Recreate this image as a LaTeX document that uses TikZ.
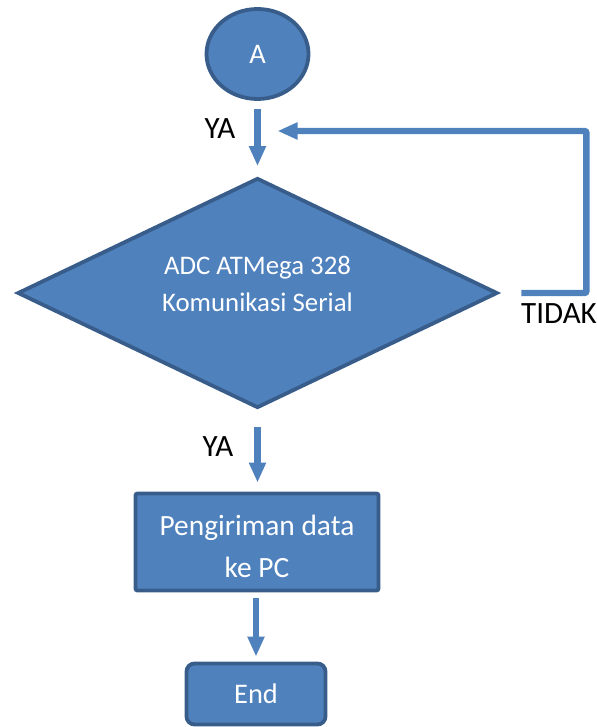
\documentclass[tikz,border=0pt]{standalone}
\usepackage{fontspec}
\setmainfont{Carlito}
\usetikzlibrary{shapes.geometric,arrows.meta}
\definecolor{boxfill}{HTML}{4F81BD}
\definecolor{boxline}{HTML}{385D8A}
\definecolor{flowline}{HTML}{4F81BD}
\begin{document}
\begin{tikzpicture}[x=0.5pt, y=-0.5pt,
    box/.style={draw=boxline, fill=boxfill, line width=1.9pt, text=white, align=center, inner sep=0pt,
      font=\fontsize{14.2}{18.5}\selectfont},
    flow/.style={draw=flowline, line width=3.2pt, -{Triangle[width=8pt, length=10pt]}},
    lbl/.style={font=\fontsize{15.5}{18}\selectfont}]
    \useasboundingbox (0,0) rectangle (597,727);

    % Flow nodes
    \node[box, ellipse, minimum width=51pt, minimum height=45pt] (start) at (257.5,54) {A};
    \node[box, diamond, minimum width=240pt, minimum height=115pt] (check) at (257.5,293) {};
    \node[text=white, align=center, font=\fontsize{13.4}{18.5}\selectfont] (checktext) at (257.5,284) {ADC ATMega 328\\Komunikasi Serial};
    \node[box, rectangle, rounded corners=1pt, minimum width=121.5pt, minimum height=48.5pt,
      font=\fontsize{14.7}{21}\selectfont] (send) at (257,542) {};
    \node[text=white, align=center, font=\fontsize{14.7}{21}\selectfont] (sendtext) at (257,546) {Pengiriman data\\ke PC};
    \node[box, rectangle, rounded corners=4pt, minimum width=69.5pt, minimum height=30.5pt] (finish) at (256,694) {End};

    % Labels
    \node[lbl] (ya1) at (220,129) {YA};
    \node[lbl] (ya2) at (218,447) {YA};
    \node[lbl] (tidak) at (559,314) {TIDAK};
    \coordinate (back) at (257.5,131);

    % Arrows
    \draw[flow, shorten <=4pt, shorten >=5pt] (start) -- (check);
    \draw[flow, shorten <=8.5pt, shorten >=4.5pt] (check.south) -- (check.south |- send.north);
    \draw[flow, shorten <=3pt, shorten >=2.5pt] (send.south -| finish) -- (finish);
    \draw[flow, rounded corners=1pt, shorten <=11pt, shorten >=10pt] (check.east) -- ++(87,0) |- (back);
\end{tikzpicture}
\end{document}
